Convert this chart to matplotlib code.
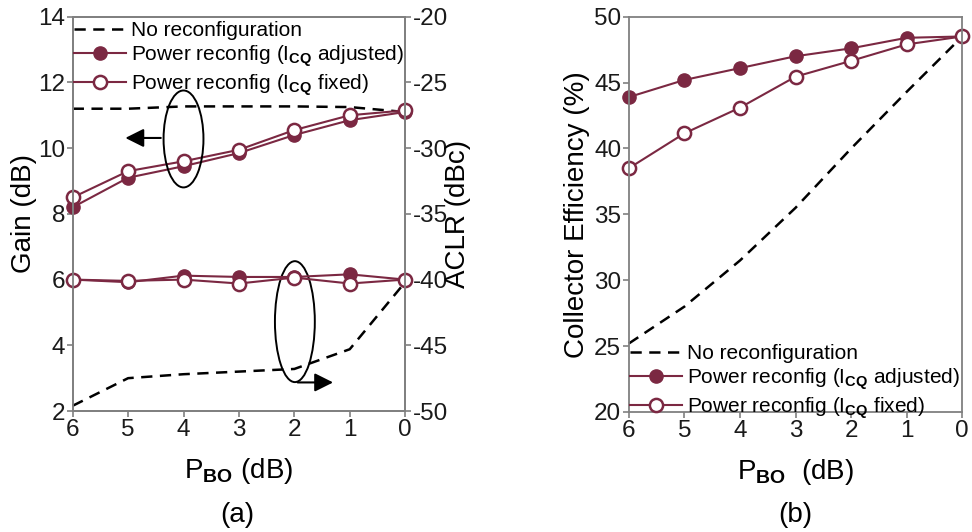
import matplotlib
matplotlib.use('Agg')
import matplotlib.pyplot as plt
from matplotlib.patches import Ellipse

plt.rcParams['font.family'] = ['Liberation Sans', 'DejaVu Sans']
plt.rcParams['mathtext.fontset'] = 'custom'
plt.rcParams['mathtext.rm'] = 'Liberation Sans'
plt.rcParams['mathtext.bf'] = 'Liberation Sans:bold'
plt.rcParams['axes.unicode_minus'] = False

pbo = [6, 5, 4, 3, 2, 1, 0]

# gain (dB)
gain_noreconf = [11.2, 11.2, 11.27, 11.27, 11.27, 11.25, 11.1]
gain_adjusted = [8.2, 9.1, 9.45, 9.85, 10.4, 10.85, 11.1]
gain_fixed = [8.5, 9.3, 9.6, 9.95, 10.55, 11.0, 11.15]

# ACLR (dBc)
aclr_noreconf = [-49.6, -47.5, -47.2, -47.0, -46.8, -45.3, -40.2]
aclr_adjusted = [-40.0, -40.2, -39.7, -39.8, -39.8, -39.6, -40.0]
aclr_fixed = [-40.0, -40.1, -40.0, -40.3, -39.85, -40.3, -40.0]

# collector efficiency (%)
eff_noreconf = [25.2, 28.0, 31.5, 35.5, 40.0, 44.3, 48.5]
eff_adjusted = [43.9, 45.2, 46.1, 47.0, 47.6, 48.4, 48.5]
eff_fixed = [38.5, 41.15, 43.1, 45.45, 46.65, 47.9, 48.5]

lbl_none = 'No reconfiguration'
lbl_adj = r'Power reconfig (I$_{\mathbf{CQ}}$ adjusted)'
lbl_fix = r'Power reconfig (I$_{\mathbf{CQ}}$ fixed)'

maroon = '#7b2842'
gray = '#808080'
tick_fs = 17.5
label_fs = 20
leg_fs = 15

dash = dict(color='black', linestyle=(0, (4.5, 3)), linewidth=1.8)
filled = dict(color=maroon, linewidth=1.5, marker='o', markersize=9.5,
              markerfacecolor=maroon, markeredgecolor=maroon)
hollow = dict(color=maroon, linewidth=1.5, marker='o', markersize=9.5,
              markerfacecolor='white', markeredgecolor=maroon, markeredgewidth=1.8)
leg_kw = dict(frameon=False, fontsize=leg_fs, handlelength=2.5, handletextpad=0.25,
              labelspacing=0.15, borderaxespad=0.2)


def style(ax):
    for s in ax.spines.values():
        s.set_color(gray)
        s.set_linewidth(1.3)
    ax.tick_params(direction='out', length=4, width=1.2, color=gray,
                   labelsize=tick_fs, labelcolor='#1a1a1a', pad=1.5)


fig = plt.figure(figsize=(9.72, 5.32), dpi=100)

# (a) gain and ACLR
ax1 = fig.add_axes([0.0748, 0.2274, 0.342, 0.7412])
ax2 = ax1.twinx()
ax1.plot(pbo, gain_noreconf, **dash, label=lbl_none)
ax1.plot(pbo, gain_adjusted, **filled, label=lbl_adj)
ax1.plot(pbo, gain_fixed, **hollow, label=lbl_fix)
ax2.plot(pbo, aclr_noreconf, **dash)
ax2.plot(pbo, aclr_adjusted, **filled)
ax2.plot(pbo, aclr_fixed, **hollow)
for a in (ax1, ax2):
    a.set_xlim(6, 0)
    a.set_xticks(pbo)
ax1.set_ylim(2, 14)
ax1.set_yticks(range(2, 15, 2))
ax2.set_ylim(-50, -20)
ax2.set_yticks(range(-50, -19, 5))
for ln in ax1.lines + ax2.lines:
    ln.set_clip_on(False)
style(ax1)
style(ax2)
ax1.set_ylabel('Gain (dB)', fontsize=label_fs, labelpad=1)
ax2.set_ylabel('ACLR (dBc)', fontsize=label_fs, labelpad=-2)
ax1.set_xlabel(r'P$_{\mathbf{BO}}$ (dB)', fontsize=label_fs, labelpad=11)

# ellipses with arrows pointing to the relevant axis
ax2.add_patch(Ellipse((4, 10.28), 0.72, 2.95, transform=ax1.transData,
                      fill=False, edgecolor='black', linewidth=1.4))
ax2.annotate('', xy=(5.1, 10.31), xytext=(4.36, 10.31),
             xycoords=ax1.transData, textcoords=ax1.transData,
             arrowprops=dict(arrowstyle='-|>', color='black', lw=1.5, mutation_scale=28))
ax2.add_patch(Ellipse((1.99, 4.72), 0.72, 3.68, transform=ax1.transData,
                      fill=False, edgecolor='black', linewidth=1.4))
ax2.annotate('', xy=(1.25, 2.87), xytext=(1.99, 2.87),
             xycoords=ax1.transData, textcoords=ax1.transData,
             arrowprops=dict(arrowstyle='-|>', color='black', lw=1.5, mutation_scale=28))

ax2.legend(handles=ax1.get_lines(), loc='upper left', bbox_to_anchor=(-0.035, 1.02), **leg_kw)

# (b) collector efficiency
ax3 = fig.add_axes([0.647, 0.2256, 0.343, 0.743])
ax3.plot(pbo, eff_noreconf, **dash, label=lbl_none)
ax3.plot(pbo, eff_adjusted, **filled, label=lbl_adj)
ax3.plot(pbo, eff_fixed, **hollow, label=lbl_fix)
for ln in ax3.lines:
    ln.set_clip_on(False)
ax3.set_xlim(6, 0)
ax3.set_xticks(pbo)
ax3.set_ylim(20, 50)
ax3.set_yticks(range(20, 51, 5))
style(ax3)
ax3.set_ylabel('Collector Efficiency (%)', fontsize=label_fs, labelpad=3)
ax3.set_xlabel(r'P$_{\mathbf{BO}}$  (dB)', fontsize=label_fs, labelpad=11)
ax3.legend(loc='lower left', bbox_to_anchor=(-0.035, -0.055), **leg_kw)

fig.text(0.244, 0.032, '(a)', fontsize=label_fs, ha='center', va='center')
fig.text(0.818, 0.032, '(b)', fontsize=label_fs, ha='center', va='center')

fig.savefig('out.png', dpi=100, facecolor='white')
